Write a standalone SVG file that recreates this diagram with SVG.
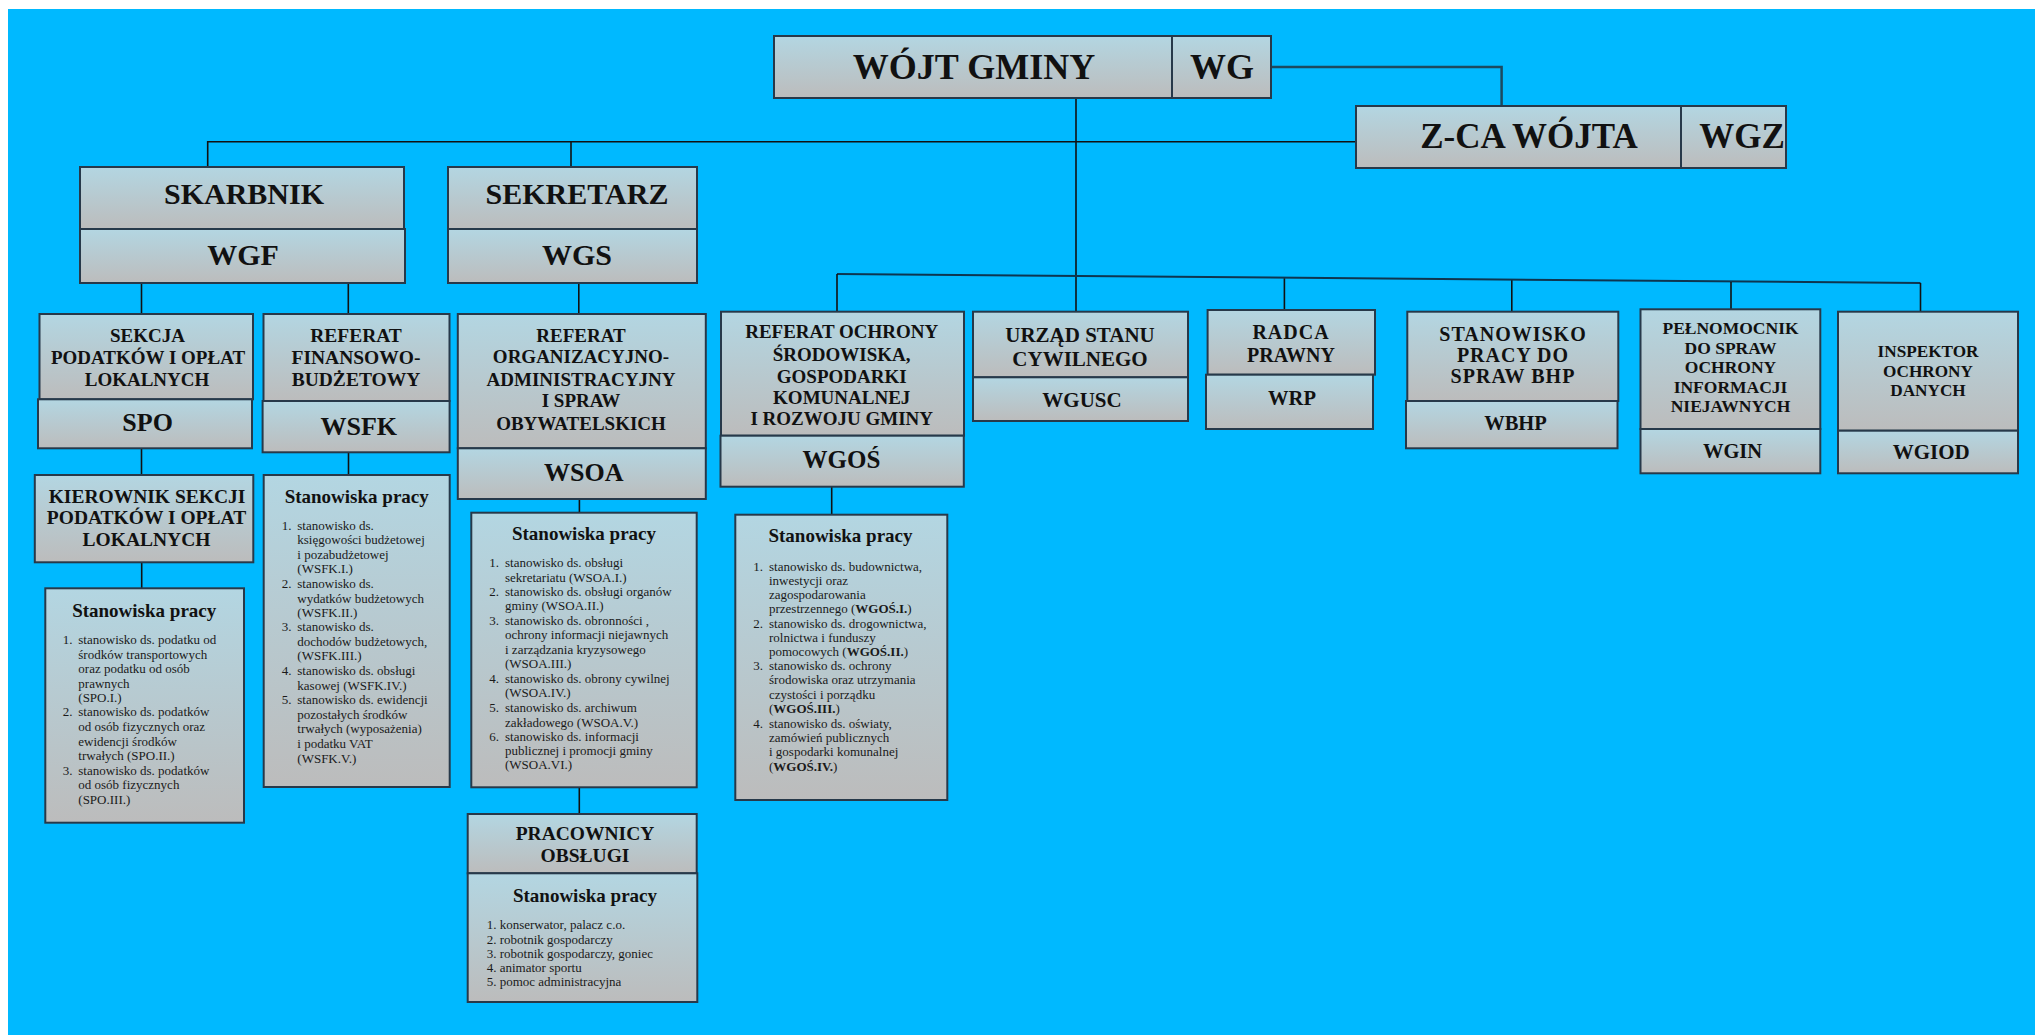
<svg xmlns="http://www.w3.org/2000/svg" width="2035" height="1035" viewBox="0 0 2035 1035">
<style>
.box{fill:url(#g);stroke:#27394a;stroke-width:2}
.t{font-family:"Liberation Serif","Times New Roman",serif;font-weight:bold;fill:#111;text-anchor:middle}
.l{font-family:"Liberation Serif","Times New Roman",serif;font-size:13px;fill:#1a1a1a}
.b{font-weight:bold}
.c{fill:none;stroke:#111;stroke-width:1.6}
</style>
<defs>
<linearGradient id="g" x1="0" y1="0" x2="0" y2="1">
<stop offset="0" stop-color="#B3D6E2"/>
<stop offset="1" stop-color="#BCBCBC"/>
</linearGradient>
</defs>
<rect x="0" y="0" width="2035" height="1035" fill="#ffffff"/>
<rect x="8" y="9" width="2027" height="1026" fill="#00B9FF"/>

<g id="connectors">
<path class="c" d="M1076,98 V312"/>
<path class="c" d="M1271,67 H1501.6 V106" style="stroke:#1c4a60;stroke-width:2.5"/>
<path class="c" d="M207.7,167 V141.7 H1356"/>
<path class="c" d="M571,141.7 V167"/>
<path class="c" d="M141.5,283.3 V314"/>
<path class="c" d="M348.3,283.3 V314"/>
<path class="c" d="M578.8,283.3 V314"/>
<path class="c" d="M141.5,448.3 V475"/>
<path class="c" d="M141.7,562.3 V588.3"/>
<path class="c" d="M348.5,452.3 V475"/>
<path class="c" d="M579.4,499 V512.7"/>
<path class="c" d="M579.3,787.3 V814"/>
<path class="c" d="M831.7,486.7 V514.7"/>
<path class="c" d="M837,274 L1920.5,283" style="stroke:#0e3550;stroke-width:2"/>
<path class="c" d="M837,274 V311.7"/>
<path class="c" d="M1284.4,278.4 V310"/>
<path class="c" d="M1511.8,280.2 V311.7"/>
<path class="c" d="M1731,282 V309.3"/>
<path class="c" d="M1920.5,283 V311.7"/>
</g>

<g id="wojt">
<rect class="box" x="774" y="36" width="398" height="62"/>
<rect class="box" x="1172" y="36" width="99" height="62"/>
<text class="t" x="974" y="79" font-size="36">WÓJT GMINY</text>
<text class="t" x="1222" y="79" font-size="36">WG</text>
</g>

<g id="zca">
<rect class="box" x="1356" y="106" width="325" height="62"/>
<rect class="box" x="1681" y="106" width="105" height="62"/>
<text class="t" x="1529" y="148" font-size="35">Z-CA WÓJTA</text>
<text class="t" x="1742" y="148" font-size="35">WGZ</text>
</g>

<g id="skarbnik">
<rect class="box" x="80" y="167" width="324" height="62"/>
<rect class="box" x="80" y="229" width="325" height="54"/>
<text class="t" x="244" y="204" font-size="30">SKARBNIK</text>
<text class="t" x="243" y="265" font-size="30">WGF</text>
</g>

<g id="sekretarz">
<rect class="box" x="448" y="167" width="249" height="62"/>
<rect class="box" x="448" y="229" width="249" height="54"/>
<text class="t" x="577" y="204" font-size="30">SEKRETARZ</text>
<text class="t" x="577" y="265" font-size="30">WGS</text>
</g>

<g id="spo">
<rect class="box" x="39.5" y="314" width="213.5" height="85.3"/>
<rect class="box" x="38" y="399.3" width="214" height="49"/>
<text class="t" font-size="19"><tspan x="147.5" y="342.3">SEKCJA</tspan><tspan x="148" y="364.3">PODATKÓW I OPŁAT</tspan><tspan x="147" y="386">LOKALNYCH</tspan></text>
<text class="t" x="147.6" y="431" font-size="26">SPO</text>
</g>

<g id="wsfk">
<rect class="box" x="263.5" y="314" width="186" height="87"/>
<rect class="box" x="262.6" y="401" width="187" height="51.3"/>
<text class="t" font-size="19.5"><tspan x="356" y="342.3">REFERAT</tspan><tspan x="356" y="364">FINANSOWO-</tspan><tspan x="356" y="385.7">BUDŻETOWY</tspan></text>
<text class="t" x="358.8" y="435" font-size="26">WSFK</text>
</g>

<g id="wsoa">
<rect class="box" x="457.8" y="314" width="248" height="134.3"/>
<rect class="box" x="457.8" y="448.3" width="248" height="50.7"/>
<text class="t" font-size="19"><tspan x="581" y="342.3">REFERAT</tspan><tspan x="581" y="363.3">ORGANIZACYJNO-</tspan><tspan x="581" y="385.7">ADMINISTRACYJNY</tspan><tspan x="581" y="407">I SPRAW</tspan><tspan x="581" y="430">OBYWATELSKICH</tspan></text>
<text class="t" x="583.8" y="481" font-size="26">WSOA</text>
</g>

<g id="kierownik">
<rect class="box" x="34.8" y="475" width="218.5" height="87.3"/>
<text class="t" font-size="19.5"><tspan x="147" y="502.7">KIEROWNIK SEKCJI</tspan><tspan x="146.5" y="524.3">PODATKÓW I OPŁAT</tspan><tspan x="146.5" y="546">LOKALNYCH</tspan></text>
</g>

<g id="spo-stanowiska">
<rect class="box" x="45.3" y="588.3" width="198.7" height="234.4"/>
<text class="t" x="144.2" y="616.7" font-size="19">Stanowiska pracy</text>
<text class="l"><tspan x="62.7" y="644">1.</tspan><tspan x="62.7" y="716.3">2.</tspan><tspan x="62.7" y="774.7">3.</tspan></text>
<text class="l">
<tspan x="78.3" y="644">stanowisko ds. podatku od</tspan>
<tspan x="78.3" y="658.6">środków transportowych</tspan>
<tspan x="78.3" y="673.2">oraz podatku od osób</tspan>
<tspan x="78.3" y="687.7">prawnych</tspan>
<tspan x="78.3" y="702">(SPO.I.)</tspan>
<tspan x="78.3" y="716.3">stanowisko ds. podatków</tspan>
<tspan x="78.3" y="731">od osób fizycznych oraz</tspan>
<tspan x="78.3" y="745.6">ewidencji środków</tspan>
<tspan x="78.3" y="760">trwałych (SPO.II.)</tspan>
<tspan x="78.3" y="774.7">stanowisko ds. podatków</tspan>
<tspan x="78.3" y="789.3">od osób fizycznych</tspan>
<tspan x="78.3" y="804">(SPO.III.)</tspan>
</text>
</g>

<g id="wsfk-stanowiska">
<rect class="box" x="263.7" y="475" width="186" height="312"/>
<text class="t" x="356.7" y="503.3" font-size="19">Stanowiska pracy</text>
<text class="l"><tspan x="281.7" y="530">1.</tspan><tspan x="281.7" y="588.3">2.</tspan><tspan x="281.7" y="631.3">3.</tspan><tspan x="281.7" y="675.3">4.</tspan><tspan x="281.7" y="704.3">5.</tspan></text>
<text class="l">
<tspan x="297.3" y="530">stanowisko ds.</tspan>
<tspan x="297.3" y="544.3">księgowości budżetowej</tspan>
<tspan x="297.3" y="559">i pozabudżetowej</tspan>
<tspan x="297.3" y="573.3">(WSFK.I.)</tspan>
<tspan x="297.3" y="588.3">stanowisko ds.</tspan>
<tspan x="297.3" y="602.7">wydatków budżetowych</tspan>
<tspan x="297.3" y="616.7">(WSFK.II.)</tspan>
<tspan x="297.3" y="631.3">stanowisko ds.</tspan>
<tspan x="297.3" y="646">dochodów budżetowych,</tspan>
<tspan x="297.3" y="660.3">(WSFK.III.)</tspan>
<tspan x="297.3" y="675.3">stanowisko ds. obsługi</tspan>
<tspan x="297.3" y="689.7">kasowej (WSFK.IV.)</tspan>
<tspan x="297.3" y="704.3">stanowisko ds. ewidencji</tspan>
<tspan x="297.3" y="719">pozostałych środków</tspan>
<tspan x="297.3" y="733.3">trwałych (wyposażenia)</tspan>
<tspan x="297.3" y="748">i podatku VAT</tspan>
<tspan x="297.3" y="762.7">(WSFK.V.)</tspan>
</text>
</g>

<g id="wsoa-stanowiska">
<rect class="box" x="471.3" y="512.7" width="225.4" height="274.6"/>
<text class="t" x="584" y="540" font-size="19">Stanowiska pracy</text>
<text class="l"><tspan x="489.3" y="566.7">1.</tspan><tspan x="489.3" y="596">2.</tspan><tspan x="489.3" y="625">3.</tspan><tspan x="489.3" y="683.3">4.</tspan><tspan x="489.3" y="711.7">5.</tspan><tspan x="489.3" y="740.7">6.</tspan></text>
<text class="l">
<tspan x="505" y="566.7">stanowisko ds. obsługi</tspan>
<tspan x="505" y="581.7">sekretariatu (WSOA.I.)</tspan>
<tspan x="505" y="596">stanowisko ds. obsługi organów</tspan>
<tspan x="505" y="610">gminy (WSOA.II.)</tspan>
<tspan x="505" y="625">stanowisko ds. obronności ,</tspan>
<tspan x="505" y="639.3">ochrony informacji niejawnych</tspan>
<tspan x="505" y="654">i zarządzania kryzysowego</tspan>
<tspan x="505" y="668.3">(WSOA.III.)</tspan>
<tspan x="505" y="683.3">stanowisko ds. obrony cywilnej</tspan>
<tspan x="505" y="697.3">(WSOA.IV.)</tspan>
<tspan x="505" y="711.7">stanowisko ds. archiwum</tspan>
<tspan x="505" y="726.7">zakładowego (WSOA.V.)</tspan>
<tspan x="505" y="740.7">stanowisko ds. informacji</tspan>
<tspan x="505" y="755">publicznej i promocji gminy</tspan>
<tspan x="505" y="769.3">(WSOA.VI.)</tspan>
</text>
</g>

<g id="pracownicy">
<rect class="box" x="467.7" y="814" width="229" height="59.3"/>
<rect class="box" x="467.7" y="873.3" width="229.6" height="128.7"/>
<text class="t" font-size="19.5"><tspan x="585" y="840">PRACOWNICY</tspan><tspan x="585" y="862.3">OBSŁUGI</tspan></text>
<text class="t" x="585" y="901.7" font-size="19">Stanowiska pracy</text>
<text class="l">
<tspan x="486.7" y="929.3">1. konserwator, palacz c.o.</tspan>
<tspan x="486.7" y="943.5">2. robotnik gospodarczy</tspan>
<tspan x="486.7" y="957.7">3. robotnik gospodarczy, goniec</tspan>
<tspan x="486.7" y="971.9">4. animator sportu</tspan>
<tspan x="486.7" y="986">5. pomoc administracyjna</tspan>
</text>
</g>

<g id="wgos">
<rect class="box" x="721" y="311.7" width="243" height="124"/>
<rect class="box" x="720.5" y="435.7" width="243.3" height="51"/>
<text class="t" font-size="19"><tspan x="841.7" y="338.3">REFERAT OCHRONY</tspan><tspan x="841.7" y="361">ŚRODOWISKA,</tspan><tspan x="841.7" y="383.3">GOSPODARKI</tspan><tspan x="841.7" y="404.3">KOMUNALNEJ</tspan><tspan x="841.7" y="425">I ROZWOJU GMINY</tspan></text>
<text class="t" x="841.5" y="468.3" font-size="25">WGOŚ</text>
</g>

<g id="wgos-stanowiska">
<rect class="box" x="735.3" y="514.7" width="212" height="285.3"/>
<text class="t" x="840.5" y="541.7" font-size="19">Stanowiska pracy</text>
<text class="l"><tspan x="753.3" y="570.7">1.</tspan><tspan x="753.3" y="627.7">2.</tspan><tspan x="753.3" y="670">3.</tspan><tspan x="753.3" y="727.7">4.</tspan></text>
<text class="l">
<tspan x="769" y="570.7">stanowisko ds. budownictwa,</tspan>
<tspan x="769" y="585">inwestycji oraz</tspan>
<tspan x="769" y="599.3">zagospodarowania</tspan>
<tspan x="769" y="613.3">przestrzennego (<tspan class="b">WGOŚ.I.</tspan>)</tspan>
<tspan x="769" y="627.7">stanowisko ds. drogownictwa,</tspan>
<tspan x="769" y="641.7">rolnictwa i funduszy</tspan>
<tspan x="769" y="656">pomocowych (<tspan class="b">WGOŚ.II.</tspan>)</tspan>
<tspan x="769" y="670">stanowisko ds. ochrony</tspan>
<tspan x="769" y="684.3">środowiska oraz utrzymania</tspan>
<tspan x="769" y="699">czystości i porządku</tspan>
<tspan x="769" y="713.3">(<tspan class="b">WGOŚ.III.</tspan>)</tspan>
<tspan x="769" y="727.7">stanowisko ds. oświaty,</tspan>
<tspan x="769" y="741.7">zamówień publicznych</tspan>
<tspan x="769" y="756">i gospodarki komunalnej</tspan>
<tspan x="769" y="770.7">(<tspan class="b">WGOŚ.IV.</tspan>)</tspan>
</text>
</g>

<g id="wgusc">
<rect class="box" x="973" y="311.7" width="215" height="65.6"/>
<rect class="box" x="973" y="377.3" width="215" height="43.7"/>
<text class="t" font-size="21"><tspan x="1080" y="341.7">URZĄD STANU</tspan><tspan x="1080" y="366">CYWILNEGO</tspan></text>
<text class="t" x="1082" y="406.7" font-size="21">WGUSC</text>
</g>

<g id="wrp">
<rect class="box" x="1207.6" y="310" width="167.4" height="64.7"/>
<rect class="box" x="1206" y="374.7" width="167" height="54.3"/>
<text class="t" font-size="20"><tspan x="1291" y="339" letter-spacing="1">RADCA</tspan><tspan x="1291" y="361.7">PRAWNY</tspan></text>
<text class="t" x="1292" y="405" font-size="20.5">WRP</text>
</g>

<g id="wbhp">
<rect class="box" x="1407.3" y="311.7" width="211" height="89.3"/>
<rect class="box" x="1406" y="401" width="211.5" height="47.3"/>
<text class="t" font-size="20" letter-spacing="1"><tspan x="1513" y="341">STANOWISKO</tspan><tspan x="1513" y="361.7">PRACY DO</tspan><tspan x="1513" y="383.3">SPRAW BHP</tspan></text>
<text class="t" x="1515.5" y="430" font-size="20.5">WBHP</text>
</g>

<g id="wgin">
<rect class="box" x="1640.5" y="309.3" width="179.8" height="119.7"/>
<rect class="box" x="1640.5" y="429" width="179.8" height="44.3"/>
<text class="t" font-size="17.5"><tspan x="1730.5" y="334.3">PEŁNOMOCNIK</tspan><tspan x="1730.5" y="354">DO SPRAW</tspan><tspan x="1730.5" y="373.3">OCHRONY</tspan><tspan x="1730.5" y="392.7">INFORMACJI</tspan><tspan x="1730.5" y="412">NIEJAWNYCH</tspan></text>
<text class="t" x="1732.5" y="458.3" font-size="20.5">WGIN</text>
</g>

<g id="wgiod">
<rect class="box" x="1838" y="311.7" width="180" height="119"/>
<rect class="box" x="1838" y="430.7" width="180" height="42.6"/>
<text class="t" font-size="17.2"><tspan x="1928" y="356.7">INSPEKTOR</tspan><tspan x="1928" y="376.7">OCHRONY</tspan><tspan x="1928" y="395.7">DANYCH</tspan></text>
<text class="t" x="1931.3" y="459.3" font-size="21">WGIOD</text>
</g>
</svg>
